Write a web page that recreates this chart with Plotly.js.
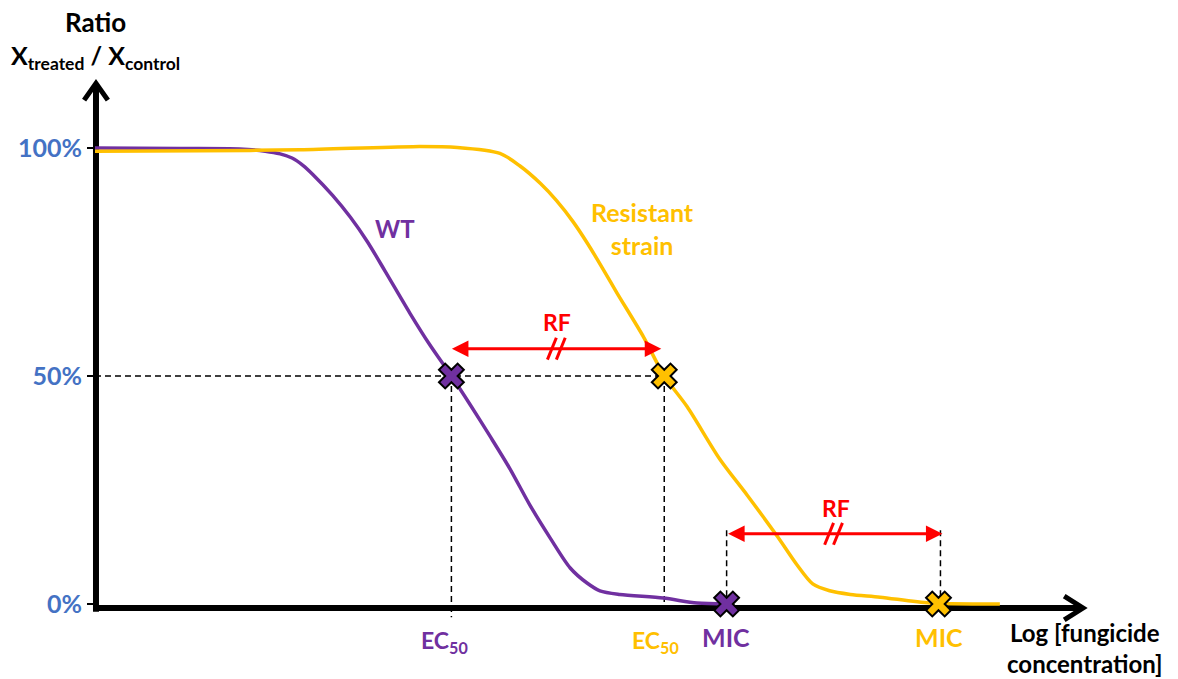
<!DOCTYPE html>
<html>
<head>
<meta charset="utf-8">
<script src="https://cdn.plot.ly/plotly-3.0.1.min.js"></script>
<style>html,body{margin:0;padding:0;background:#fff;}#chart{width:1178px;height:679px;}</style>
</head>
<body>
<div id="chart"></div>
<script>
// ---- Data (x: log fungicide concentration, arbitrary units; y: ratio in %) ----
const wtX = [0, 8.6, 14.6, 17.2, 18.7, 19.9, 21.0, 22.0, 24.0, 25.8, 27.5, 29.3, 31.8, 33.8, 36.0, 37.9, 39.9, 41.9, 43.9, 46.0, 48.0, 49.7, 51.0, 53.0, 57.4, 60.8, 63.8];
const wtY = [100, 99.9, 99.8, 99.3, 98.7, 97.8, 96.2, 94.2, 89.6, 84.8, 79.5, 73.0, 63.8, 56.9, 50, 43.7, 36.8, 29.7, 21.8, 14.4, 7.9, 4.6, 2.9, 2.1, 1.3, 0.2, 0];
const resX = [0, 10.6, 20.7, 32.1, 36.6, 40.9, 42.9, 45.0, 46.6, 48.3, 49.8, 51.3, 52.7, 55.4, 57.5, 59.8, 63.1, 65.9, 68.9, 70.9, 72.5, 74.2, 76.3, 79.3, 84.3, 89.4, 91.4];
const resY = [99.3, 99.4, 99.6, 100.3, 100.1, 98.8, 96.1, 92.2, 88.5, 83.8, 78.9, 73.5, 68.3, 58.6, 50, 43.3, 31.8, 23.8, 14.9, 8.6, 4.4, 2.9, 2.1, 1.5, 0.2, 0, 0];
const ec50X = [36.0, 57.5];      // WT, resistant strain
const ec50Y = [50, 50];
const micX = [63.8, 85.2];       // WT, resistant strain
const micY = [0, 0];
const yTickVals = [0, 50, 100];
const yTickText = ['0%', '50%', '100%'];

const PURPLE = '#7030A0', ORANGE = '#FFC000', BLUE = '#4472C4', RED = '#FF0000';
const FONT = 'Lato, "Open Sans", sans-serif';

const traces = [
  {x: wtX, y: wtY, mode: 'lines', line: {color: PURPLE, width: 3.5, shape: 'spline', smoothing: 0.8}, hoverinfo: 'skip', showlegend: false},
  {x: resX, y: resY, mode: 'lines', line: {color: ORANGE, width: 3.5, shape: 'spline', smoothing: 0.8}, hoverinfo: 'skip', showlegend: false},
  {x: ec50X, y: ec50Y, mode: 'markers', marker: {symbol: 'x', size: 22, color: [PURPLE, ORANGE], line: {color: 'black', width: 2}}, showlegend: false},
  {x: micX, y: micY, mode: 'markers', marker: {symbol: 'x', size: 22, color: [PURPLE, ORANGE], line: {color: 'black', width: 2}}, showlegend: false}
];

const dash = {color: 'black', width: 1.5, dash: '6px,4px'};
function rfMark(cx, cy) {
  return [
    {type: 'line', x0: cx - 0.9, y0: cy - 2.4, x1: cx, y1: cy + 2.4, line: {color: RED, width: 3}},
    {type: 'line', x0: cx, y0: cy - 2.4, x1: cx + 0.9, y1: cy + 2.4, line: {color: RED, width: 3}}
  ];
}
const shapes = [
  // dashed guides
  {type: 'line', layer: 'below', x0: 0, x1: ec50X[1], y0: 50, y1: 50, line: dash},
  {type: 'line', layer: 'below', x0: ec50X[0], x1: ec50X[0], y0: 50, y1: -2.9, line: dash},
  {type: 'line', layer: 'below', x0: ec50X[1], x1: ec50X[1], y0: 50, y1: 0, line: dash},
  {type: 'line', layer: 'below', x0: micX[0], x1: micX[0], y0: 16.2, y1: 0, line: dash},
  {type: 'line', layer: 'below', x0: micX[1] + 0.2, x1: micX[1] + 0.2, y0: 16.2, y1: 0, line: dash},
  // axes with open arrowheads
  {type: 'path', layer: 'below', path: 'M 0.1,-1.7 L 0.1,113.9', line: {color: 'black', width: 6}},
  {type: 'path', layer: 'below', path: 'M -1.1,110.5 L 0.1,114.2 L 1.3,110.5', line: {color: 'black', width: 5}},
  {type: 'path', layer: 'below', path: 'M -0.2,-0.88 L 99.6,-0.88', line: {color: 'black', width: 6}},
  {type: 'path', layer: 'below', path: 'M 97.9,1.75 L 99.8,-0.88 L 97.9,-3.5', line: {color: 'black', width: 5}}
].concat(rfMark(46.6, 56.0), rfMark(74.6, 15.4));

function txt(x, y, text, color, size) {
  return {x: x, y: y, text: text, showarrow: false, xanchor: 'center', yanchor: 'middle',
          font: {family: FONT, size: size, color: color, weight: 'bold'}};
}
function rfArrow(x0, x1, y) {
  return {x: x1, y: y, ax: x0, ay: y, axref: 'x', ayref: 'y', text: '', showarrow: true,
          arrowhead: 2, startarrowhead: 2, arrowside: 'end+start', arrowsize: 1.1, arrowwidth: 3,
          arrowcolor: RED, standoff: 0, startstandoff: 0};
}
const annotations = [
  rfArrow(35.9, 57.2, 56.0),
  rfArrow(63.8, 85.6, 15.4),
  txt(46.7, 61.8, 'RF', RED, 23),
  txt(74.8, 21.1, 'RF', RED, 23),
  txt(30.3, 82.3, 'WT', PURPLE, 24),
  txt(55.3, 82.4, 'Resistant<br>strain', ORANGE, 25),
  txt(0, 127.6, 'Ratio', 'black', 26),
  txt(0, 120.0, 'X<sub>treated</sub> / X<sub>control</sub>', 'black', 25),
  txt(35.3, -8.2, 'EC<sub>50</sub>', PURPLE, 23),
  txt(56.6, -8.2, 'EC<sub>50</sub>', ORANGE, 23),
  txt(63.7, -7.2, 'MIC', PURPLE, 25),
  txt(85.25, -7.2, 'MIC', ORANGE, 25),
  txt(100.0, -9.7, 'Log [fungicide<br>concentration]', 'black', 24)
];

const layout = {
  width: 1178, height: 679,
  margin: {l: 0, r: 0, t: 0, b: 0},
  paper_bgcolor: 'white', plot_bgcolor: 'white',
  showlegend: false,
  xaxis: {range: [-9.596, 109.394], visible: false, fixedrange: true},
  yaxis: {range: [-16.447, 132.456], showgrid: false, zeroline: false, showline: false,
          tickvals: yTickVals, ticktext: yTickText, ticks: 'outside', ticklen: 8, tickwidth: 1.5, tickcolor: 'black',
          tickfont: {family: FONT, size: 25, color: BLUE, weight: 'bold'},
          anchor: 'free', position: 0.0806, fixedrange: true},
  shapes: shapes,
  annotations: annotations,
  hovermode: false
};

Plotly.newPlot('chart', traces, layout, {displayModeBar: false, staticPlot: true});
</script>
</body>
</html>
